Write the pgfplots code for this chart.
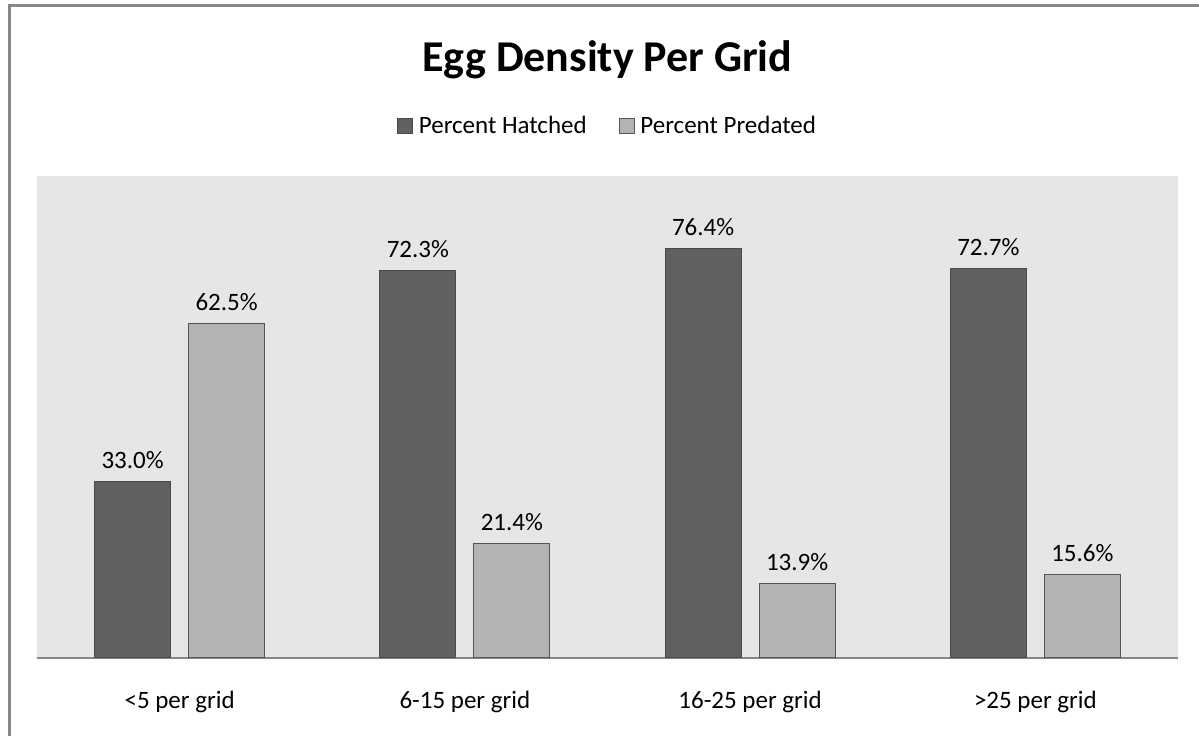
\documentclass[border=0pt]{standalone}
\usepackage{pgfplots}
\pgfplotsset{compat=1.18}
\usepackage{fontspec}
\setmainfont{Carlito}
\definecolor{hatched}{HTML}{606060}
\definecolor{hatchedline}{HTML}{4A4A4A}
\definecolor{predated}{HTML}{B3B3B3}
\definecolor{predatedline}{HTML}{555555}
\definecolor{plotbg}{HTML}{E6E6E6}
\definecolor{axisgray}{HTML}{868686}
\definecolor{framegray}{HTML}{888888}
\newcommand\lbl{\fontsize{25bp}{30bp}\selectfont}
\begin{document}
\begin{tikzpicture}
\useasboundingbox (0,0) rectangle (1199bp,736bp);
\draw[framegray, line width=3bp] (9bp,-2bp) -- (9bp,730bp) -- (1201bp,730bp);
\begin{axis}[
  at={(37bp,78bp)}, anchor=south west,
  scale only axis, width=1141bp, height=482bp,
  ybar=18bp, bar width=76bp,
  xmin=-0.5, xmax=3.5, ymin=0, ymax=90,
  xtick=data,
  xticklabels={{<5 per grid},{6-15 per grid},{16-25 per grid},{>25 per grid}},
  ytick=\empty,
  major tick length=0pt,
  axis x line=bottom, axis y line=none,
  x axis line style={-, axisgray, line width=1.5bp},
  axis background/.style={fill=plotbg},
  xticklabel style={font=\lbl, text=black, yshift=-30bp},
  title={\fontsize{44bp}{50bp}\selectfont\bfseries Egg Density Per Grid},
  title style={at={(axis description cs:0.5,1)}, anchor=base, yshift=99bp, inner sep=0pt},
  nodes near coords={\pgfmathprintnumber[fixed,fixed zerofill,precision=1,assume math mode=true]{\pgfplotspointmeta}\%},
  nodes near coords style={font=\lbl, text=black, anchor=south, yshift=9bp},
  legend style={draw=none, fill=none, font=\lbl, legend columns=2,
    at={(0.5,1.104)}, anchor=center,
    /tikz/every odd column/.append style={column sep=4bp},
    /tikz/every even column/.append style={column sep=30bp}},
  legend image code/.code={\draw[#1, line width=0.8bp] (0bp,-7.5bp) rectangle (15bp,7.5bp);},
]
\addplot[fill=hatched, draw=hatchedline, line width=1.2bp] coordinates {(0,33.0) (1,72.3) (2,76.4) (3,72.7)};
\addplot[fill=predated, draw=predatedline, line width=1.2bp] coordinates {(0,62.5) (1,21.4) (2,13.9) (3,15.6)};
\legend{Percent Hatched, Percent Predated}
\end{axis}
\end{tikzpicture}
\end{document}
